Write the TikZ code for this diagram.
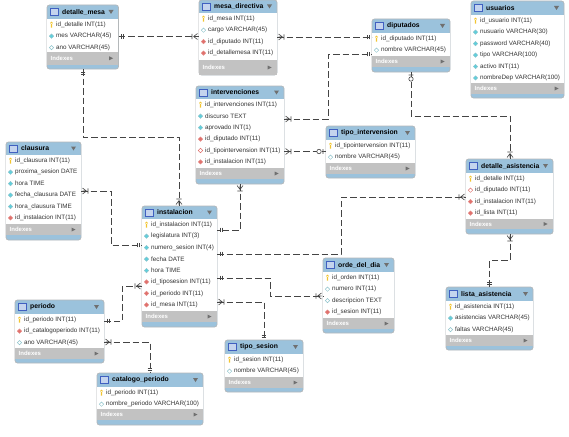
\documentclass[tikz,border=0pt]{standalone}
\usepackage{fontspec}
\setmainfont{Liberation Sans}
\definecolor{hdr}{HTML}{9BC2DC}
\definecolor{idxg}{HTML}{C2C2C2}
\definecolor{bord}{HTML}{B4B8BA}
\definecolor{txt}{HTML}{333333}
\definecolor{cy}{HTML}{5FCFDC}
\definecolor{cyd}{HTML}{8FC4CC}
\definecolor{rd}{HTML}{E0706C}
\definecolor{ye}{HTML}{F2C530}
\definecolor{tabl}{HTML}{C4D4EE}
\definecolor{tabd}{HTML}{4060C0}
\definecolor{tri}{HTML}{707070}
\definecolor{lnk}{HTML}{444444}
\tikzset{
  tbox/.style={draw=bord,fill=hdr,line width=0.7pt,rounded corners=2.5pt,inner sep=0pt,outer sep=0pt},
  ttitle/.style={anchor=west,inner sep=0pt,font=\fontsize{6.8}{8}\selectfont\bfseries,text=black},
  trow/.style={anchor=west,inner sep=0pt,font=\fontsize{6.3}{7.5}\selectfont,text=txt},
  tidx/.style={anchor=west,inner sep=0pt,font=\fontsize{6}{7}\selectfont\bfseries,text=white},
  rel/.style={draw=lnk,line width=0.65pt,dash pattern=on 6.5pt off 3pt},
  mark/.style={draw=lnk,line width=0.6pt,solid},
  crowbar/.pic={
    \draw[draw=lnk,line width=0.6pt,solid] (7,-2.6)--(7,2.6) (5.5,0)--(1.5,-3) (5.5,0)--(1.5,3) (5.5,0)--(1.5,0);
  },
  dblbar/.pic={
    \draw[draw=lnk,line width=0.6pt,solid] (3,-2.4)--(3,2.4) (5,-2.4)--(5,2.4);
  },
  cirbar/.pic={
    \draw[draw=lnk,line width=0.6pt,solid,fill=white] (3,-2.4)--(3,2.4) (7,0) circle (2.2);
  }
}
\newcommand{\iconk}[2]{\fill[ye,shift={(#1,#2)}] (0,-1.8) circle (1.4) (-0.6,-1.5) rectangle (0.6,3);}
\newcommand{\iconc}[2]{\filldraw[fill=cy,draw=cyd,line width=0.4pt,shift={(#1,#2)}] (-2.2,0)--(0,-2.2)--(2.2,0)--(0,2.2)--cycle;}
\newcommand{\icono}[2]{\filldraw[fill=white,draw=cyd,line width=0.5pt,shift={(#1,#2)}] (-2.2,0)--(0,-2.2)--(2.2,0)--(0,2.2)--cycle;}
\newcommand{\iconr}[2]{\filldraw[fill=rd,draw=rd!80,line width=0.4pt,shift={(#1,#2)}] (-2.2,0)--(0,-2.2)--(2.2,0)--(0,2.2)--cycle;}
\newcommand{\icons}[2]{\filldraw[fill=white,draw=rd,line width=0.5pt,shift={(#1,#2)}] (-2.2,0)--(0,-2.2)--(2.2,0)--(0,2.2)--cycle;}
\newcommand{\tbl}[9]{%
  \def\tid{#1}\def\tx{#3}\def\th{#7}%
  \node[tbox,minimum width={(#5-#3)*1pt},minimum height={(#6-#4)*1pt}] (#1) at ({(#3+#5)/2},{(#4+#6)/2}) {};
  \fill[white] (#3+0.4,#7) rectangle (#5-0.4,#8);
  \fill[idxg] (#3+0.4,#8) rectangle (#5-0.4,#9);
  \filldraw[fill=tabl,draw=tabd,line width=0.5pt] (#3+3.5,{(#4+#7)/2-3.6}) rectangle (#3+11.5,{(#4+#7)/2+3.6});
  \node[ttitle] (#1-t) at (#3+15,{(#4+#7)/2}) {#2};
  \fill[tri] (#5-10,{(#4+#7)/2-2}) -- (#5-5,{(#4+#7)/2-2}) -- (#5-7.5,{(#4+#7)/2+2}) -- cycle;
  \node[tidx] (#1-x) at (#3+3.5,{(#8+#9)/2}) {Indexes};
  \fill[tri] (#5-9.5,{(#8+#9)/2-2}) -- (#5-5.5,{(#8+#9)/2}) -- (#5-9.5,{(#8+#9)/2+2}) -- cycle;
  \tblrows}
\newcommand{\tblrows}[1]{%
  \foreach \k/\t [count=\i] in {#1}{
    \pgfmathsetmacro{\yy}{\th+(\i-0.5)*11.45}
    \csname icon\k\endcsname{\tx+4.5}{\yy}
    \node[trow] (\tid-\i) at (\tx+9,\yy) {\t};
  }}
\begin{document}
\begin{tikzpicture}[x=1pt,y=-1pt]
\useasboundingbox (0,0) rectangle (569,436);
\fill[white] (0,0) rectangle (569,436);

\tbl{dm}{detalle\_mesa}{47}{5}{118.5}{69}{19}{52}{64.5}
  {k/{id\_detalle INT(11)},c/{mes VARCHAR(45)},o/{ano VARCHAR(45)}}
\tbl{md}{mesa\_directiva}{199}{0}{277}{75}{13}{60}{75}
  {k/{id\_mesa INT(11)},o/{cargo VARCHAR(45)},r/{id\_diputado INT(11)},r/{id\_detallemesa INT(11)}}
\tbl{dp}{diputados}{372}{19}{450}{72}{33}{56}{67}
  {k/{id\_diputado INT(11)},o/{nombre VARCHAR(45)}}
\tbl{us}{usuarios}{471}{1}{564}{98}{15}{83}{94}
  {k/{id\_usuario INT(11)},c/{nusuario VARCHAR(30)},c/{password VARCHAR(40)},c/{tipo VARCHAR(100)},c/{activo INT(11)},c/{nombreDep VARCHAR(100)}}
\tbl{iv}{intervenciones}{196}{86}{284}{184}{99}{168}{179}
  {k/{id\_intervenciones INT(11)},c/{discurso TEXT},c/{aprovado INT(1)},r/{id\_diputado INT(11)},s/{id\_tipointervension INT(11)},r/{id\_instalacion INT(11)}}
\tbl{ti}{tipo\_intervension}{326}{126}{415}{178}{140}{163}{174}
  {k/{id\_tipointervension INT(11)},o/{nombre VARCHAR(45)}}
\tbl{cl}{clausura}{6}{142}{81}{240}{155}{224}{235}
  {k/{id\_clausura INT(11)},c/{proxima\_sesion DATE},c/{hora TIME},c/{fecha\_clausura DATE},c/{hora\_clausura TIME},r/{id\_instalacion INT(11)}}
\tbl{in}{instalacion}{142}{206}{217}{327}{219}{311}{322}
  {k/{id\_instalacion INT(11)},c/{legislatura INT(3)},c/{numero\_sesion INT(4)},c/{fecha DATE},c/{hora TIME},r/{id\_tiposesion INT(11)},r/{id\_periodo INT(11)},r/{id\_mesa INT(11)}}
\tbl{da}{detalle\_asistencia}{466}{159}{553}{234}{173}{219}{229}
  {k/{id\_detalle INT(11)},s/{id\_diputado INT(11)},r/{id\_instalacion INT(11)},r/{id\_lista INT(11)}}
\tbl{od}{orde\_del\_dia}{323}{258}{394}{333}{272}{318}{329}
  {k/{id\_orden INT(11)},o/{numero INT(11)},o/{descripcion TEXT},r/{id\_sesion INT(11)}}
\tbl{la}{lista\_asistencia}{446}{287}{533}{350}{301}{335}{346}
  {k/{id\_asistencia INT(11)},c/{asistencias VARCHAR(45)},o/{faltas VARCHAR(45)}}
\tbl{pe}{periodo}{15}{300}{104}{363}{314}{348}{359}
  {k/{id\_periodo INT(11)},r/{id\_catalogoperiodo INT(11)},o/{ano VARCHAR(45)}}
\tbl{cp}{catalogo\_periodo}{97}{373}{203}{425}{387}{409}{420}
  {k/{id\_periodo INT(11)},o/{nombre\_periodo VARCHAR(100)}}
\tbl{ts}{tipo\_sesion}{225}{340}{303}{392}{354}{377}{388}
  {k/{id\_sesion INT(11)},o/{nombre VARCHAR(45)}}

% connectors
\draw[rel] (dm.east |- 0,36.5) pic{dblbar} -- (md.west |- 0,36.5) pic[rotate=180]{crowbar};
\draw[rel] (md.east |- 0,37) pic{crowbar} -- (dp.west |- 0,37) pic[rotate=180]{dblbar};
\draw[rel] (iv.east |- 0,119) pic{crowbar} -- (328,119) -- (328,54) -- (dp.west |- 0,54) pic[rotate=180]{dblbar};
\draw[rel] (iv.east |- 0,151.5) pic{crowbar} -- (ti.west |- 0,151.5) pic[rotate=180]{cirbar};
\draw[rel] (dp.south -| 411,0) pic[rotate=-90]{cirbar} -- (411,116) -- (510,116) -- (da.north -| 510,0) pic[rotate=90]{crowbar};
\draw[rel] (dm.south -| 83,0) pic[rotate=-90]{dblbar} -- (83,137) -- (179,137) -- (in.north -| 179,0) pic[rotate=90]{crowbar};
\draw[rel] (cl.east |- 0,191) pic{crowbar} -- (111,191) -- (111,245) -- (in.west |- 0,245) pic[rotate=180]{dblbar};
\draw[rel] (iv.south -| 240,0) pic[rotate=-90]{crowbar} -- (240,230) -- (in.east |- 0,230) pic{dblbar};
\draw[rel] (in.east |- 0,254) pic{dblbar} -- (341,254) -- (341,197) -- (da.west |- 0,197) pic[rotate=180]{crowbar};
\draw[rel] (in.east |- 0,278) pic{dblbar} -- (270,278) -- (270,296) -- (od.west |- 0,296) pic[rotate=180]{crowbar};
\draw[rel] (in.east |- 0,302) pic{crowbar} -- (264,302) -- (ts.north -| 264,0) pic[rotate=90]{dblbar};
\draw[rel] (in.west |- 0,286) pic[rotate=180]{crowbar} -- (122,286) -- (122,321) -- (pe.east |- 0,321) pic{dblbar};
\draw[rel] (pe.east |- 0,342) pic{crowbar} -- (150,342) -- (cp.north -| 150,0) pic[rotate=90]{dblbar};
\draw[rel] (da.south -| 510,0) pic[rotate=-90]{crowbar} -- (510,260) -- (489.5,260) -- (la.north -| 489.5,0) pic[rotate=90]{dblbar};
\end{tikzpicture}
\end{document}
